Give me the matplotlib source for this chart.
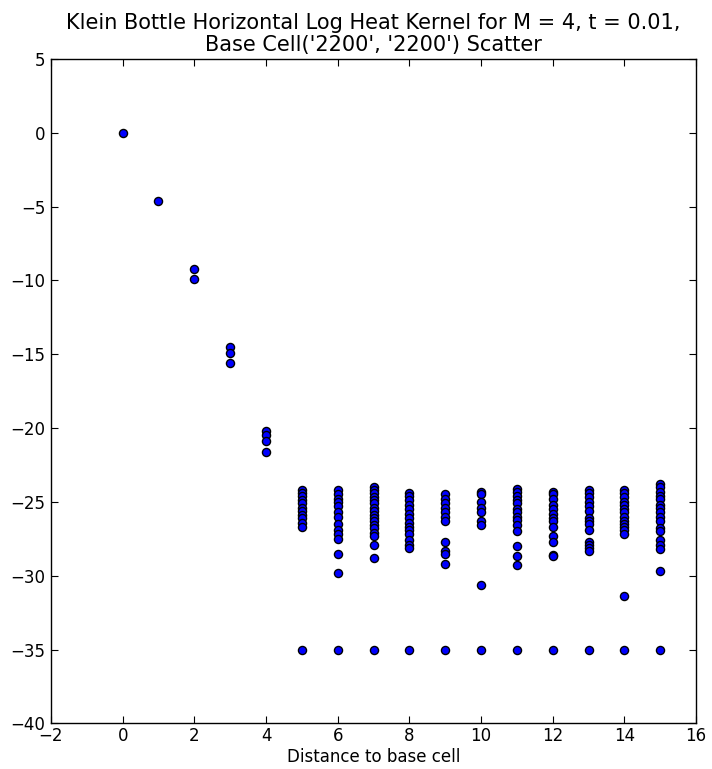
import matplotlib
matplotlib.use('Agg')
import matplotlib.pyplot as plt
import numpy as np

# log heat kernel values, grouped by distance to base cell
d0 = [0.0]
d1 = [-4.65]
d2 = [-9.2, -9.9]
d3 = [-14.5, -14.9, -15.6]
d4 = [-20.2, -20.5, -20.9, -21.6]
d5 = [-24.2, -24.4, -24.6, -24.9, -25.1, -25.4, -25.6, -25.9, -26.1, -26.4, -26.7, -35.0]
d6 = [-24.2, -24.5, -24.8, -25.0, -25.3, -25.7, -26.0, -26.5, -26.9, -27.2, -27.5, -28.5, -29.8, -35.0]
d7 = [-24.0, -24.2, -24.4, -24.7, -24.9, -25.1, -25.4, -25.6, -25.9, -26.1, -26.3, -26.6, -26.8, -27.1, -27.3, -27.9, -28.8, -35.0]
d8 = [-24.4, -24.6, -24.9, -25.2, -25.5, -25.8, -26.1, -26.4, -26.7, -26.9, -27.2, -27.6, -27.9, -28.1, -35.0]
d9 = [-24.5, -24.8, -25.1, -25.4, -25.7, -26.0, -26.3, -27.7, -28.3, -28.5, -29.2, -35.0]
d10 = [-24.3, -24.5, -25.0, -25.4, -25.7, -26.3, -26.6, -30.6, -35.0]
d11 = [-24.1, -24.3, -24.6, -24.9, -25.1, -25.5, -25.7, -26.0, -26.2, -26.6, -27.0, -28.0, -28.7, -29.3, -35.0]
d12 = [-24.3, -24.5, -24.8, -25.2, -25.5, -25.8, -26.1, -26.3, -26.7, -27.3, -27.7, -28.6, -28.7, -35.0]
d13 = [-24.2, -24.4, -24.7, -25.0, -25.3, -25.6, -26.1, -26.3, -26.5, -26.9, -27.7, -27.9, -28.1, -28.3, -35.0]
d14 = [-24.2, -24.4, -24.7, -25.0, -25.2, -25.5, -25.7, -26.0, -26.3, -26.5, -26.7, -26.9, -27.2, -31.4, -35.0]
d15 = [-23.8, -24.0, -24.3, -24.6, -24.8, -25.2, -25.4, -25.7, -26.0, -26.3, -26.8, -27.0, -27.6, -27.9, -28.2, -29.7, -35.0]

columns = [d0, d1, d2, d3, d4, d5, d6, d7, d8, d9, d10, d11, d12, d13, d14, d15]

dist = np.concatenate([[i] * len(c) for i, c in enumerate(columns)])
log_kernel = np.concatenate(columns)

plt.rcParams['font.family'] = 'DejaVu Sans'
fig = plt.figure(figsize=(7.12, 7.69), dpi=100, facecolor='white')
ax = fig.add_axes([0.0716, 0.0594, 0.906, 0.8639])

ax.scatter(dist, log_kernel, s=34, c='b', edgecolors='k', linewidths=1, zorder=3)
ax.set_xlim(-2, 16)
ax.set_ylim(-40, 5)
ax.set_xticks(np.arange(-2, 17, 2))
ax.set_yticks(np.arange(-40, 6, 5))
ax.tick_params(direction='in', top=True, right=True, length=5, labelsize=12)
ax.tick_params(axis='x', pad=3)
ax.tick_params(axis='y', pad=4)
for sp in ax.spines.values():
    sp.set_linewidth(1)
ax.set_xlabel('Distance to base cell', fontsize=12, labelpad=2)
ax.set_title("Klein Bottle Horizontal Log Heat Kernel for M = 4, t = 0.01,\nBase Cell('2200', '2200') Scatter",
             fontsize=15, pad=6, linespacing=1.1)

plt.savefig('out.png', dpi=100, facecolor='white')
